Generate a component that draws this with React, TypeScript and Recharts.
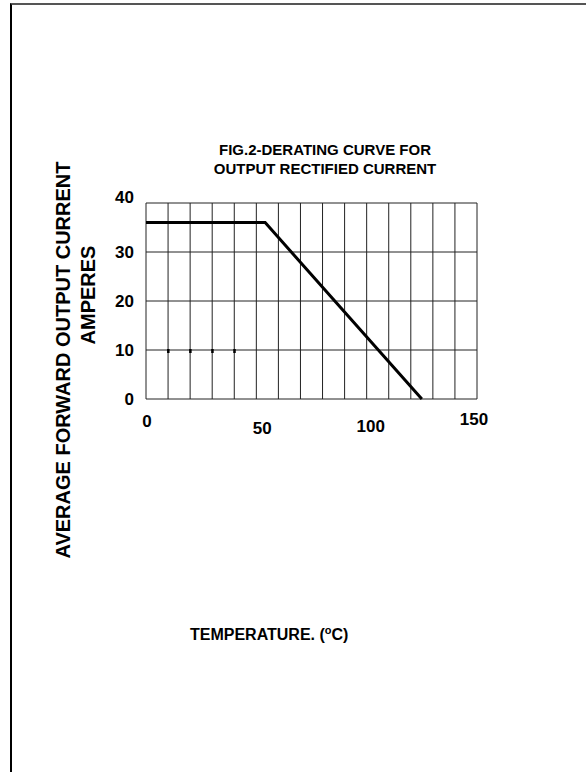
import React from "react";
import { LineChart, Line, XAxis, YAxis, CartesianGrid, Scatter } from "recharts";

const FONT = "'Liberation Sans', Arial, Helvetica, sans-serif";

// temperature (°C) / current (A) break points of the derating curve
const temps = [0, 54, 125];
const amps = [36, 36, 0];
const xTicks = [0, 10, 20, 30, 40, 50, 60, 70, 80, 90, 100, 110, 120, 130, 140, 150];
const xLabels = [0, 50, 100, 150];
const yTicks = [0, 10, 20, 30, 40];
// little dark marks sitting on the 10 A grid line
const markTemps = [10, 20, 30, 40];
const markAmps = [10, 10, 10, 10];

const curve = temps.map((t, i) => ({ t, a: amps[i] }));
const marks = markTemps.map((t, i) => ({ t, a: markAmps[i] }));

// per-label nudges, the scanned figure has them a bit out of line
const xNudge: Record<number, { dx: number; dy: number }> = {
  0: { dx: 1, dy: 20 },
  50: { dx: 6, dy: 27 },
  100: { dx: 4, dy: 25 },
  150: { dx: -3, dy: 18 },
};

function XTick({ x, y, payload }: any) {
  const v = payload.value as number;
  if (!xLabels.includes(v)) return null;
  const n = xNudge[v];
  return (
    <text x={x + n.dx} y={y + n.dy} textAnchor="middle" fontFamily={FONT} fontWeight={700} fontSize={17} fill="#000">
      {v}
    </text>
  );
}

function YTick({ x, y, payload }: any) {
  const v = payload.value as number;
  return (
    <text x={x - 4} y={y + (v === 40 ? 0 : 6)} textAnchor="end" fontFamily={FONT} fontWeight={700} fontSize={17} fill="#000">
      {v}
    </text>
  );
}

function Mark({ cx, cy }: any) {
  return <rect x={cx - 1} y={cy - 1} width={2.5} height={4} fill="#000" />;
}

const text: React.CSSProperties = {
  position: "absolute",
  fontFamily: FONT,
  fontWeight: 700,
  color: "#000",
  whiteSpace: "nowrap",
};

export default function App() {
  return (
    <div style={{ position: "absolute", left: 0, top: 0, width: 586, height: 772, background: "#fff", overflow: "hidden" }}>
      {/* frame of the scanned page */}
      <div style={{ position: "absolute", left: 10, top: 3, width: 580, height: 780, borderTop: "2px solid #555", borderLeft: "2px solid #000" }} />

      <div style={{ ...text, left: 125, width: 400, top: 140, fontSize: 15, lineHeight: "19px", textAlign: "center" }}>
        FIG.2-DERATING CURVE FOR
        <br />
        OUTPUT RECTIFIED CURRENT
      </div>

      <div style={{ ...text, left: 63 - 250, top: 360 - 12, width: 500, fontSize: 20, lineHeight: "24px", textAlign: "center", transform: "rotate(-90deg)" }}>
        AVERAGE FORWARD OUTPUT CURRENT
      </div>
      <div style={{ ...text, left: 88 - 150, top: 295 - 12, width: 300, fontSize: 20, lineHeight: "24px", textAlign: "center", transform: "rotate(-90deg)" }}>
        AMPERES
      </div>

      <div style={{ ...text, left: 190, top: 624, fontSize: 16 }}>
        TEMPERATURE. (<sup style={{ fontSize: 11 }}>o</sup>C)
      </div>

      <LineChart
        width={586}
        height={772}
        data={curve}
        margin={{ top: 203, right: 109, bottom: 343, left: 86 }}
        style={{ position: "absolute", left: 0, top: 0 }}
      >
        <CartesianGrid stroke="#222" strokeWidth={1} />
        <XAxis
          dataKey="t"
          type="number"
          domain={[0, 150]}
          ticks={xTicks}
          interval={0}
          height={30}
          axisLine={false}
          tickLine={false}
          tick={<XTick />}
        />
        <YAxis
          type="number"
          domain={[0, 40]}
          ticks={yTicks}
          width={60}
          axisLine={false}
          tickLine={false}
          tick={<YTick />}
        />
        <Line dataKey="a" type="linear" stroke="#000" strokeWidth={3} dot={false} isAnimationActive={false} />
        <Scatter data={marks} dataKey="a" shape={<Mark />} isAnimationActive={false} />
      </LineChart>
    </div>
  );
}
